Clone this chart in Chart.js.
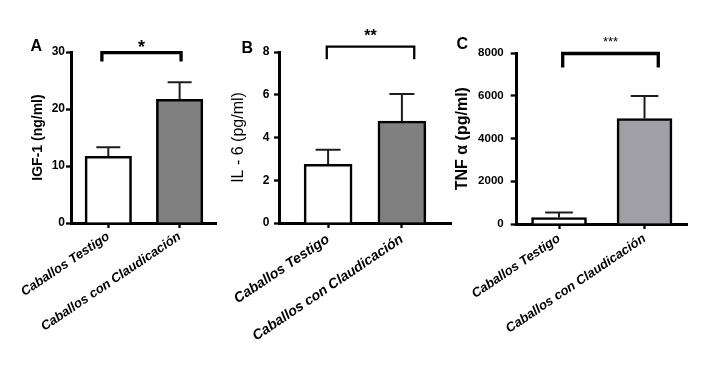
<!DOCTYPE html>
<html>
<head>
<meta charset="utf-8">
<script src="https://cdn.jsdelivr.net/npm/chart.js@4.4.0/dist/chart.umd.min.js"></script>
<style>
  html, body { margin: 0; padding: 0; background: #fff; }
  #wrap { position: relative; width: 709px; height: 377px; }
  #wrap canvas { position: absolute; left: 0; top: 0; }
</style>
</head>
<body>
<div id="wrap">
  <canvas id="chartA" width="709" height="377"></canvas>
  <canvas id="chartB" width="709" height="377"></canvas>
  <canvas id="chartC" width="709" height="377"></canvas>
</div>
<script>
const categories = ['Caballos Testigo', 'Caballos con Claudicación'];

// A - IGF-1 (ng/ml), media y error
const igfMean = [11.7, 21.7];
const igfSem = [1.6, 3.0];
const igfTicks = [0, 10, 20, 30];

// B - IL-6 (pg/ml)
const il6Mean = [2.75, 4.77];
const il6Sem = [0.68, 1.27];
const il6Ticks = [0, 2, 4, 6, 8];

// C - TNF alfa (pg/ml)
const tnfMean = [300, 4940];
const tnfSem = [240, 1060];
const tnfTicks = [0, 2000, 4000, 6000, 8000];

const sigLabels = ['*', '**', '***'];

const FONT = "'Liberation Sans', Arial, sans-serif";

const panels = [
  {
    id: 'chartA', letter: 'A', letterAt: [30.5, 50.7], title: 'IGF-1 (ng/ml)',
    mean: igfMean, sem: igfSem, ticks: igfTicks, sig: sigLabels[0],
    box: { left: 25, axisW: 46, top: 52, bottom: 223, right: 216 },
    titleFont: { size: 14, weight: 'bold' }, titlePad: 5,
    tickFont: 12, tickLen: 5, tickPad: 1, labelFont: 13, labelPad: 1,
    xRange: [-0.523, 1.51], barW: 46.5, fill: ['#ffffff', '#808080'],
    capW: 24,
    bracket: { from: -0.09, to: 1.02, level: 29.9, drop: 9, width: 3.3, font: 'bold 18px ' + FONT, starDy: 0 }
  },
  {
    id: 'chartB', letter: 'B', letterAt: [241.5, 53.3], title: 'IL - 6 (pg/ml)',
    mean: il6Mean, sem: il6Sem, ticks: il6Ticks, sig: sigLabels[1],
    box: { left: 222, axisW: 57, top: 52, bottom: 223, right: 451 },
    titleFont: { size: 16, weight: 'normal' }, titlePad: 6.7,
    tickFont: 12, tickLen: 5, tickPad: 4.5, labelFont: 14, labelPad: 3,
    xRange: [-0.665, 1.665], barW: 48, fill: ['#ffffff', '#808080'],
    capW: 25,
    bracket: { from: -0.018, to: 1.167, level: 8.25, drop: 12.6, width: 2.3, font: 'bold 16px ' + FONT, starDy: -5.4 }
  },
  {
    id: 'chartC', letter: 'C', letterAt: [456.5, 49.3], title: 'TNF α (pg/ml)',
    mean: tnfMean, sem: tnfSem, ticks: tnfTicks, sig: sigLabels[2],
    box: { left: 448, axisW: 68.7, top: 53.3, bottom: 224, right: 687 },
    titleFont: { size: 16, weight: 'bold' }, titlePad: 4.9,
    tickFont: 11.5, tickLen: 6, tickPad: 7, labelFont: 13, labelPad: 2,
    xRange: [-0.495, 1.497], barW: 55, fill: ['#ffffff', '#a09fa5'],
    capW: 27.7,
    bracket: { from: 0.043, to: 1.161, level: 7990, drop: 14, width: 3.3, font: '13px ' + FONT, starDy: -7.3 }
  }
];

// barras de error, corchete de significancia y letra del panel
const drawExtras = (chart, p) => {
  const ctx = chart.ctx;
  const xs = chart.scales.x;
  const ys = chart.scales.y;
  const meta = chart.getDatasetMeta(0);
  ctx.save();
  ctx.strokeStyle = '#1e1e1e';
  ctx.lineWidth = 2;
  ctx.lineCap = 'butt';
  meta.data.forEach((bar, i) => {
    const top = ys.getPixelForValue(p.mean[i] + p.sem[i]);
    ctx.beginPath();
    ctx.moveTo(bar.x, bar.y);
    ctx.lineTo(bar.x, top);
    ctx.moveTo(bar.x - p.capW / 2, top);
    ctx.lineTo(bar.x + p.capW / 2, top);
    ctx.stroke();
  });

  const b = p.bracket;
  const x1 = xs.getPixelForValue(b.from);
  const x2 = xs.getPixelForValue(b.to);
  const y = ys.getPixelForValue(b.level);
  ctx.strokeStyle = '#000';
  ctx.lineWidth = b.width;
  ctx.lineJoin = 'miter';
  ctx.beginPath();
  ctx.moveTo(x1, y + b.drop);
  ctx.lineTo(x1, y);
  ctx.lineTo(x2, y);
  ctx.lineTo(x2, y + b.drop);
  ctx.stroke();

  ctx.fillStyle = '#000';
  ctx.font = b.font;
  ctx.textAlign = 'center';
  ctx.textBaseline = 'alphabetic';
  ctx.fillText(p.sig, (x1 + x2) / 2, y + b.starDy);

  ctx.font = 'bold 16px ' + FONT;
  ctx.textAlign = 'left';
  ctx.fillText(p.letter, p.letterAt[0], p.letterAt[1]);
  ctx.restore();
};

const makePanel = (p) => {
  const ctx = document.querySelector('#' + p.id).getContext('2d');
  return new Chart(ctx, {
    type: 'bar',
    data: {
      datasets: [{
        data: p.mean.map((v, i) => ({ x: i, y: v })),
        backgroundColor: p.fill,
        borderColor: '#000',
        borderWidth: 2.6,
        borderSkipped: 'start',
        barThickness: p.barW
      }]
    },
    options: {
      responsive: false,
      animation: false,
      layout: {
        padding: { left: p.box.left, top: p.box.top, right: 709 - p.box.right, bottom: 0 }
      },
      plugins: {
        legend: { display: false },
        tooltip: { enabled: false }
      },
      scales: {
        x: {
          type: 'linear',
          offset: false,
          min: p.xRange[0],
          max: p.xRange[1],
          afterBuildTicks: (s) => { s.ticks = categories.map((c, i) => ({ value: i })); },
          afterFit: (s) => { s.height = 377 - p.box.bottom; },
          grid: { display: true, offset: false, drawOnChartArea: false, drawTicks: true, tickLength: 5, tickWidth: 2.3, color: '#000' },
          border: { display: true, color: '#000', width: 3 },
          ticks: {
            autoSkip: false,
            maxRotation: 34,
            minRotation: 34,
            padding: p.labelPad,
            color: '#000',
            font: { family: FONT, size: p.labelFont, weight: 'bold', style: 'italic' },
            callback: (v) => categories[v]
          }
        },
        y: {
          min: 0,
          max: p.ticks[p.ticks.length - 1],
          afterBuildTicks: (s) => { s.ticks = p.ticks.map(v => ({ value: v })); },
          afterFit: (s) => { s.width = p.box.axisW; },
          grid: { display: true, drawOnChartArea: false, drawTicks: true, tickLength: p.tickLen, tickWidth: 2.3, color: '#000' },
          border: { display: true, color: '#000', width: 3 },
          ticks: {
            padding: p.tickPad,
            color: '#000',
            font: { family: FONT, size: p.tickFont, weight: 'bold' },
            callback: (v) => String(v)
          },
          title: {
            display: true,
            text: p.title,
            color: '#000',
            padding: { top: p.titlePad, bottom: 0 },
            font: { family: FONT, size: p.titleFont.size, weight: p.titleFont.weight }
          }
        }
      }
    },
    plugins: [{ id: 'extras', afterDatasetsDraw: (chart) => drawExtras(chart, p) }]
  });
};

panels.forEach(makePanel);
</script>
</body>
</html>
